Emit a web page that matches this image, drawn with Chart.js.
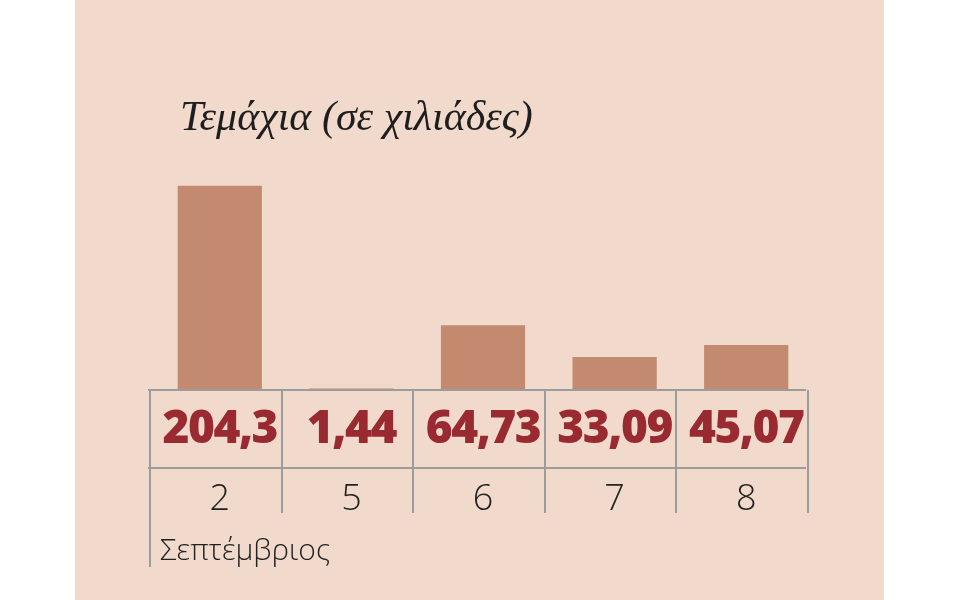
<!DOCTYPE html>
<html>
<head>
<meta charset="utf-8">
<script src="https://cdn.jsdelivr.net/npm/chart.js@4"></script>
<style>
  html, body { margin: 0; padding: 0; background: #fff; }
  canvas { display: block; }
</style>
</head>
<body>
<canvas id="myChart" width="960" height="600"></canvas>
<script>
// data
const categories = ['2', '5', '6', '7', '8'];
const values = [204.3, 1.44, 64.73, 33.09, 45.07];
const valueLabels = ['204,3', '1,44', '64,73', '33,09', '45,07'];
const monthLabel = 'Σεπτέμβριος';
const titleText = 'Τεμάχια (σε χιλιάδες)';

const panelColor = '#f1dacb';
const barColor = '#c38a6f';
const numberColor = '#9a2a31';
const lineColor = '#9c9c9c';

// draws the background panel, the value table and the title
const tablePlugin = {
  id: 'table',
  beforeDraw (chart) {
    const ctx = chart.ctx;
    ctx.save();
    ctx.fillStyle = '#fff';
    ctx.fillRect(0, 0, chart.width, chart.height);
    ctx.fillStyle = panelColor;
    ctx.fillRect(75, 0, 809, chart.height);
    ctx.restore();
  },
  afterDatasetsDraw (chart) {
    const ctx = chart.ctx;
    const x = chart.scales.x;
    const area = chart.chartArea;
    const step = (area.right - area.left) / categories.length;
    const top = area.bottom;
    const mid = top + 78;
    const low = top + 123;

    ctx.save();
    ctx.strokeStyle = lineColor;
    ctx.lineWidth = 2;

    // horizontal rules
    ctx.beginPath();
    ctx.moveTo(area.left - 6, top);
    ctx.lineTo(area.right - 6, top);
    ctx.moveTo(area.left - 6, mid);
    ctx.lineTo(area.right - 6, mid);
    ctx.stroke();

    // vertical rules between the categories
    ctx.beginPath();
    for (let i = 0; i <= categories.length; i++) {
      const lx = Math.round(area.left - 4 + i * step);
      ctx.moveTo(lx, top);
      ctx.lineTo(lx, i === 0 ? low + 54 : low);
    }
    ctx.stroke();

    // values
    ctx.textAlign = 'center';
    ctx.textBaseline = 'alphabetic';
    ctx.fillStyle = numberColor;
    ctx.font = '800 46px "Open Sans"';
    ctx.letterSpacing = '-1.5px';
    valueLabels.forEach((t, i) => {
      ctx.fillText(t, x.getPixelForValue(i), top + 53);
    });

    // category ticks
    ctx.letterSpacing = '0px';
    ctx.fillStyle = '#222';
    ctx.font = '300 36px "Open Sans"';
    categories.forEach((c, i) => {
      ctx.fillText(c, x.getPixelForValue(i), top + 120);
    });

    ctx.textAlign = 'left';
    ctx.font = '300 30px "Open Sans"';
    ctx.fillText(monthLabel, 160, top + 170);

    // title
    ctx.fillStyle = '#1e1e1e';
    ctx.font = 'italic 42px "Liberation Serif"';
    ctx.fillText(titleText, 180, 130);
    ctx.restore();
  }
};

const chart = new Chart(document.getElementById('myChart').getContext('2d'), {
  type: 'bar',
  data: {
    labels: categories,
    datasets: [{
      data: values,
      backgroundColor: barColor,
      borderWidth: 0,
      categoryPercentage: 1,
      barPercentage: 0.64
    }]
  },
  options: {
    responsive: false,
    animation: false,
    devicePixelRatio: 1,
    layout: { padding: { left: 154, right: 148, top: 170, bottom: 210 } },
    plugins: {
      legend: { display: false },
      tooltip: { enabled: false }
    },
    scales: {
      x: { display: false },
      y: { display: false, min: 0, max: 220 }
    }
  },
  plugins: [tablePlugin]
});
</script>
</body>
</html>
